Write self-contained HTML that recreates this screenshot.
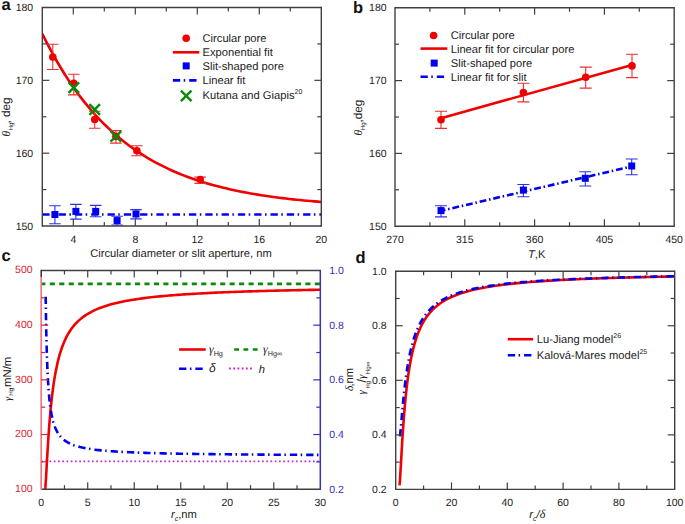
<!DOCTYPE html><html><head><meta charset="utf-8"><style>html,body{margin:0;padding:0;background:#fff;}svg{display:block;}text{font-family:"Liberation Sans",sans-serif;text-rendering:geometricPrecision;}</style></head><body>
<svg width="685" height="524" viewBox="0 0 685 524">
<rect width="685" height="524" fill="#fff"/>
<g>
<clipPath id="ca"><rect x="42.3" y="7.5" width="279.0" height="218.5"/></clipPath>
<path d="M42.30 33.72L45.83 40.84L49.36 47.67L52.89 54.21L56.43 60.50L59.96 66.52L63.49 72.30L67.02 77.85L70.55 83.17L74.08 88.27L77.62 93.16L81.15 97.86L84.68 102.36L88.21 106.69L91.74 110.83L95.27 114.81L98.81 118.62L102.34 122.28L105.87 125.79L109.40 129.16L112.93 132.39L116.46 135.49L120.00 138.46L123.53 141.31L127.06 144.04L130.59 146.67L134.12 149.18L137.65 151.60L141.19 153.91L144.72 156.14L148.25 158.27L151.78 160.31L155.31 162.27L158.84 164.16L162.38 165.96L165.91 167.69L169.44 169.35L172.97 170.95L176.50 172.47L180.03 173.94L183.57 175.35L187.10 176.69L190.63 177.99L194.16 179.23L197.69 180.42L201.22 181.56L204.76 182.66L208.29 183.71L211.82 184.72L215.35 185.69L218.88 186.61L222.41 187.50L225.95 188.36L229.48 189.18L233.01 189.96L236.54 190.72L240.07 191.44L243.60 192.13L247.14 192.80L250.67 193.44L254.20 194.05L257.73 194.64L261.26 195.20L264.79 195.74L268.33 196.26L271.86 196.76L275.39 197.23L278.92 197.69L282.45 198.13L285.98 198.55L289.52 198.96L293.05 199.34L296.58 199.72L300.11 200.07L303.64 200.42L307.17 200.74L310.71 201.06L314.24 201.36L317.77 201.65L321.30 201.93" stroke="#f00000" stroke-width="2.6" fill="none" clip-path="url(#ca)"/>
<path d="M42.30 214.50L321.30 214.50" stroke="#0000f0" stroke-width="2.6" fill="none" stroke-dasharray="7.3 3.5 1.5 4" stroke-dashoffset="0" />
<path d="M52.80 44.30V69.50M47.05 44.30H58.55M47.05 69.50H58.55" stroke="#e83030" stroke-width="1.1" fill="none"/>
<circle cx="52.80" cy="57.10" r="3.8" fill="#f00000"/>
<path d="M73.80 74.30V94.90M68.05 74.30H79.55M68.05 94.90H79.55" stroke="#e83030" stroke-width="1.1" fill="none"/>
<circle cx="73.80" cy="83.40" r="3.8" fill="#f00000"/>
<path d="M94.70 111.30V128.20M88.95 111.30H100.45M88.95 128.20H100.45" stroke="#e83030" stroke-width="1.1" fill="none"/>
<circle cx="94.70" cy="119.50" r="3.8" fill="#f00000"/>
<path d="M115.90 130.60V143.10M110.15 130.60H121.65M110.15 143.10H121.65" stroke="#e83030" stroke-width="1.1" fill="none"/>
<circle cx="115.90" cy="136.40" r="3.8" fill="#f00000"/>
<path d="M136.90 145.70V155.80M131.15 145.70H142.65M131.15 155.80H142.65" stroke="#e83030" stroke-width="1.1" fill="none"/>
<circle cx="136.90" cy="150.70" r="3.8" fill="#f00000"/>
<path d="M200.20 177.10V183.40M194.45 177.10H205.95M194.45 183.40H205.95" stroke="#e83030" stroke-width="1.1" fill="none"/>
<circle cx="200.20" cy="179.60" r="3.8" fill="#f00000"/>
<path d="M54.90 205.80V223.80M49.15 205.80H60.65M49.15 223.80H60.65" stroke="#3030e8" stroke-width="1.1" fill="none"/>
<rect x="51.40" y="211.00" width="7" height="7" fill="#0000f0"/>
<path d="M75.90 204.40V219.10M70.15 204.40H81.65M70.15 219.10H81.65" stroke="#3030e8" stroke-width="1.1" fill="none"/>
<rect x="72.40" y="207.90" width="7" height="7" fill="#0000f0"/>
<path d="M95.70 205.40V216.80M89.95 205.40H101.45M89.95 216.80H101.45" stroke="#3030e8" stroke-width="1.1" fill="none"/>
<rect x="92.20" y="207.90" width="7" height="7" fill="#0000f0"/>
<path d="M117.10 216.30V225.00M111.35 216.30H122.85M111.35 225.00H122.85" stroke="#3030e8" stroke-width="1.1" fill="none"/>
<rect x="113.60" y="217.10" width="7" height="7" fill="#0000f0"/>
<path d="M136.00 209.60V218.90M130.25 209.60H141.75M130.25 218.90H141.75" stroke="#3030e8" stroke-width="1.1" fill="none"/>
<rect x="132.50" y="210.50" width="7" height="7" fill="#0000f0"/>
<path d="M68.50 82.30L79.10 92.90M79.10 82.30L68.50 92.90" stroke="#0a8a0a" stroke-width="2.4" fill="none"/>
<path d="M89.40 104.20L100.00 114.80M100.00 104.20L89.40 114.80" stroke="#0a8a0a" stroke-width="2.4" fill="none"/>
<path d="M110.60 131.10L121.20 141.70M121.20 131.10L110.60 141.70" stroke="#0a8a0a" stroke-width="2.4" fill="none"/>
<line x1="42.30" y1="7.50" x2="321.30" y2="7.50" stroke="#404040" stroke-width="1.4" />
<line x1="42.30" y1="226.00" x2="321.30" y2="226.00" stroke="#404040" stroke-width="1.4" />
<line x1="42.30" y1="6.80" x2="42.30" y2="226.70" stroke="#404040" stroke-width="1.4" />
<line x1="321.30" y1="6.80" x2="321.30" y2="226.70" stroke="#404040" stroke-width="1.4" />
<line x1="73.30" y1="226.00" x2="73.30" y2="219.00" stroke="#404040" stroke-width="1.2" />
<line x1="73.30" y1="7.50" x2="73.30" y2="14.50" stroke="#404040" stroke-width="1.2" />
<line x1="104.30" y1="226.00" x2="104.30" y2="222.00" stroke="#404040" stroke-width="1.2" />
<line x1="104.30" y1="7.50" x2="104.30" y2="11.50" stroke="#404040" stroke-width="1.2" />
<line x1="135.30" y1="226.00" x2="135.30" y2="219.00" stroke="#404040" stroke-width="1.2" />
<line x1="135.30" y1="7.50" x2="135.30" y2="14.50" stroke="#404040" stroke-width="1.2" />
<line x1="166.30" y1="226.00" x2="166.30" y2="222.00" stroke="#404040" stroke-width="1.2" />
<line x1="166.30" y1="7.50" x2="166.30" y2="11.50" stroke="#404040" stroke-width="1.2" />
<line x1="197.30" y1="226.00" x2="197.30" y2="219.00" stroke="#404040" stroke-width="1.2" />
<line x1="197.30" y1="7.50" x2="197.30" y2="14.50" stroke="#404040" stroke-width="1.2" />
<line x1="228.30" y1="226.00" x2="228.30" y2="222.00" stroke="#404040" stroke-width="1.2" />
<line x1="228.30" y1="7.50" x2="228.30" y2="11.50" stroke="#404040" stroke-width="1.2" />
<line x1="259.30" y1="226.00" x2="259.30" y2="219.00" stroke="#404040" stroke-width="1.2" />
<line x1="259.30" y1="7.50" x2="259.30" y2="14.50" stroke="#404040" stroke-width="1.2" />
<line x1="290.30" y1="226.00" x2="290.30" y2="222.00" stroke="#404040" stroke-width="1.2" />
<line x1="290.30" y1="7.50" x2="290.30" y2="11.50" stroke="#404040" stroke-width="1.2" />
<line x1="42.30" y1="189.58" x2="46.30" y2="189.58" stroke="#404040" stroke-width="1.2" />
<line x1="321.30" y1="189.58" x2="317.30" y2="189.58" stroke="#404040" stroke-width="1.2" />
<line x1="42.30" y1="153.17" x2="49.30" y2="153.17" stroke="#404040" stroke-width="1.2" />
<line x1="321.30" y1="153.17" x2="314.30" y2="153.17" stroke="#404040" stroke-width="1.2" />
<line x1="42.30" y1="116.75" x2="46.30" y2="116.75" stroke="#404040" stroke-width="1.2" />
<line x1="321.30" y1="116.75" x2="317.30" y2="116.75" stroke="#404040" stroke-width="1.2" />
<line x1="42.30" y1="80.33" x2="49.30" y2="80.33" stroke="#404040" stroke-width="1.2" />
<line x1="321.30" y1="80.33" x2="314.30" y2="80.33" stroke="#404040" stroke-width="1.2" />
<line x1="42.30" y1="43.92" x2="46.30" y2="43.92" stroke="#404040" stroke-width="1.2" />
<line x1="321.30" y1="43.92" x2="317.30" y2="43.92" stroke="#404040" stroke-width="1.2" />
<text x="33.20" y="229.60" font-size="10.5" text-anchor="end" fill="#222" >150</text>
<text x="33.20" y="156.77" font-size="10.5" text-anchor="end" fill="#222" >160</text>
<text x="33.20" y="83.93" font-size="10.5" text-anchor="end" fill="#222" >170</text>
<text x="33.20" y="11.10" font-size="10.5" text-anchor="end" fill="#222" >180</text>
<text x="73.30" y="243.00" font-size="10.5" text-anchor="middle" fill="#222" >4</text>
<text x="135.30" y="243.00" font-size="10.5" text-anchor="middle" fill="#222" >8</text>
<text x="197.30" y="243.00" font-size="10.5" text-anchor="middle" fill="#222" >12</text>
<text x="259.30" y="243.00" font-size="10.5" text-anchor="middle" fill="#222" >16</text>
<text x="321.30" y="243.00" font-size="10.5" text-anchor="middle" fill="#222" >20</text>
<text x="181.00" y="257.40" font-size="11.2" text-anchor="middle" fill="#222" >Circular diameter or slit aperture, nm</text>
<text transform="rotate(-90)" fill="#222"><tspan x="-136.50" y="9.70" font-size="11.5" font-family="Liberation Serif" font-style="italic">θ</tspan><tspan x="-130.40" y="12.90" font-size="6.2" >Hg</tspan><tspan x="-123.60" y="9.80" font-size="11.8" >, deg</tspan></text>
<circle cx="186.20" cy="38.20" r="3.8" fill="#f00000"/>
<text x="202.50" y="41.80" font-size="11.2" text-anchor="start" fill="#222" >Circular pore</text>
<line x1="172.90" y1="52.30" x2="199.30" y2="52.30" stroke="#f00000" stroke-width="2.6" />
<text x="202.50" y="55.80" font-size="11.2" text-anchor="start" fill="#222" >Exponential fit</text>
<rect x="182.70" y="62.40" width="7" height="7" fill="#0000f0"/>
<text x="202.50" y="69.90" font-size="11.2" text-anchor="start" fill="#222" >Slit-shaped pore</text>
<path d="M172.90 80.40L199.30 80.40" stroke="#0000f0" stroke-width="2.6" fill="none" stroke-dasharray="7.3 3.5 1.5 4" stroke-dashoffset="0" />
<text x="202.50" y="83.90" font-size="11.2" text-anchor="start" fill="#222" >Linear fit</text>
<path d="M180.90 90.60L191.50 101.20M191.50 90.60L180.90 101.20" stroke="#0a8a0a" stroke-width="2.4" fill="none"/>
<text x="202.5" y="99.3" font-size="11.2" fill="#222">Kutana and Giapis<tspan font-size="7" dy="-5">20</tspan></text>
<text x="1.5" y="10.2" font-size="16.5" font-weight="bold" fill="#111">a</text>
</g>
<g>
<path d="M441.00 118.20L632.00 64.90" stroke="#f00000" stroke-width="2.6" fill="none" />
<path d="M441.00 210.80L631.70 166.40" stroke="#0000f0" stroke-width="2.6" fill="none" stroke-dasharray="6.8 2.8 1.5 2.9" stroke-dashoffset="2.3" />
<path d="M441.00 111.20V128.40M435.00 111.20H447.00M435.00 128.40H447.00" stroke="#e83030" stroke-width="1.1" fill="none"/>
<circle cx="441.00" cy="119.80" r="3.8" fill="#f00000"/>
<path d="M523.40 83.20V101.90M517.40 83.20H529.40M517.40 101.90H529.40" stroke="#e83030" stroke-width="1.1" fill="none"/>
<circle cx="523.40" cy="92.50" r="3.8" fill="#f00000"/>
<path d="M585.70 67.10V88.10M579.70 67.10H591.70M579.70 88.10H591.70" stroke="#e83030" stroke-width="1.1" fill="none"/>
<circle cx="585.70" cy="77.30" r="3.8" fill="#f00000"/>
<path d="M632.00 54.20V77.60M626.00 54.20H638.00M626.00 77.60H638.00" stroke="#e83030" stroke-width="1.1" fill="none"/>
<circle cx="632.00" cy="65.90" r="3.8" fill="#f00000"/>
<path d="M441.00 205.70V216.90M435.00 205.70H447.00M435.00 216.90H447.00" stroke="#3030e8" stroke-width="1.1" fill="none"/>
<rect x="437.50" y="207.10" width="7" height="7" fill="#0000f0"/>
<path d="M523.40 184.50V196.70M517.40 184.50H529.40M517.40 196.70H529.40" stroke="#3030e8" stroke-width="1.1" fill="none"/>
<rect x="519.90" y="186.60" width="7" height="7" fill="#0000f0"/>
<path d="M585.30 171.80V186.00M579.30 171.80H591.30M579.30 186.00H591.30" stroke="#3030e8" stroke-width="1.1" fill="none"/>
<rect x="581.80" y="174.80" width="7" height="7" fill="#0000f0"/>
<path d="M631.70 159.00V174.70M625.70 159.00H637.70M625.70 174.70H637.70" stroke="#3030e8" stroke-width="1.1" fill="none"/>
<rect x="628.20" y="162.50" width="7" height="7" fill="#0000f0"/>
<line x1="395.00" y1="7.80" x2="674.20" y2="7.80" stroke="#404040" stroke-width="1.4" />
<line x1="395.00" y1="226.20" x2="674.20" y2="226.20" stroke="#404040" stroke-width="1.4" />
<line x1="395.00" y1="7.10" x2="395.00" y2="226.90" stroke="#404040" stroke-width="1.4" />
<line x1="674.20" y1="7.10" x2="674.20" y2="226.90" stroke="#404040" stroke-width="1.4" />
<line x1="429.90" y1="226.20" x2="429.90" y2="222.20" stroke="#404040" stroke-width="1.2" />
<line x1="429.90" y1="7.80" x2="429.90" y2="11.80" stroke="#404040" stroke-width="1.2" />
<line x1="464.80" y1="226.20" x2="464.80" y2="219.20" stroke="#404040" stroke-width="1.2" />
<line x1="464.80" y1="7.80" x2="464.80" y2="14.80" stroke="#404040" stroke-width="1.2" />
<line x1="499.70" y1="226.20" x2="499.70" y2="222.20" stroke="#404040" stroke-width="1.2" />
<line x1="499.70" y1="7.80" x2="499.70" y2="11.80" stroke="#404040" stroke-width="1.2" />
<line x1="534.60" y1="226.20" x2="534.60" y2="219.20" stroke="#404040" stroke-width="1.2" />
<line x1="534.60" y1="7.80" x2="534.60" y2="14.80" stroke="#404040" stroke-width="1.2" />
<line x1="569.50" y1="226.20" x2="569.50" y2="222.20" stroke="#404040" stroke-width="1.2" />
<line x1="569.50" y1="7.80" x2="569.50" y2="11.80" stroke="#404040" stroke-width="1.2" />
<line x1="604.40" y1="226.20" x2="604.40" y2="219.20" stroke="#404040" stroke-width="1.2" />
<line x1="604.40" y1="7.80" x2="604.40" y2="14.80" stroke="#404040" stroke-width="1.2" />
<line x1="639.30" y1="226.20" x2="639.30" y2="222.20" stroke="#404040" stroke-width="1.2" />
<line x1="639.30" y1="7.80" x2="639.30" y2="11.80" stroke="#404040" stroke-width="1.2" />
<line x1="395.00" y1="189.80" x2="399.00" y2="189.80" stroke="#404040" stroke-width="1.2" />
<line x1="674.20" y1="189.80" x2="670.20" y2="189.80" stroke="#404040" stroke-width="1.2" />
<line x1="395.00" y1="153.40" x2="402.00" y2="153.40" stroke="#404040" stroke-width="1.2" />
<line x1="674.20" y1="153.40" x2="667.20" y2="153.40" stroke="#404040" stroke-width="1.2" />
<line x1="395.00" y1="117.00" x2="399.00" y2="117.00" stroke="#404040" stroke-width="1.2" />
<line x1="674.20" y1="117.00" x2="670.20" y2="117.00" stroke="#404040" stroke-width="1.2" />
<line x1="395.00" y1="80.60" x2="402.00" y2="80.60" stroke="#404040" stroke-width="1.2" />
<line x1="674.20" y1="80.60" x2="667.20" y2="80.60" stroke="#404040" stroke-width="1.2" />
<line x1="395.00" y1="44.20" x2="399.00" y2="44.20" stroke="#404040" stroke-width="1.2" />
<line x1="674.20" y1="44.20" x2="670.20" y2="44.20" stroke="#404040" stroke-width="1.2" />
<text x="386.60" y="229.80" font-size="10.5" text-anchor="end" fill="#222" >150</text>
<text x="386.60" y="157.00" font-size="10.5" text-anchor="end" fill="#222" >160</text>
<text x="386.60" y="84.20" font-size="10.5" text-anchor="end" fill="#222" >170</text>
<text x="386.60" y="11.40" font-size="10.5" text-anchor="end" fill="#222" >180</text>
<text x="395.00" y="243.00" font-size="10.5" text-anchor="middle" fill="#222" >270</text>
<text x="464.80" y="243.00" font-size="10.5" text-anchor="middle" fill="#222" >315</text>
<text x="534.60" y="243.00" font-size="10.5" text-anchor="middle" fill="#222" >360</text>
<text x="604.40" y="243.00" font-size="10.5" text-anchor="middle" fill="#222" >405</text>
<text x="674.20" y="243.00" font-size="10.5" text-anchor="middle" fill="#222" >450</text>
<text x="528" y="257.8" font-size="11.2" fill="#222"><tspan font-style="italic">T</tspan>,K</text>
<text transform="rotate(-90)" fill="#222"><tspan x="-135.60" y="361.90" font-size="11.5" font-family="Liberation Serif" font-style="italic">θ</tspan><tspan x="-130.20" y="365.10" font-size="6.2" >Hg</tspan><tspan x="-122.60" y="362.00" font-size="11.7" >,deg</tspan></text>
<circle cx="433.60" cy="35.50" r="3.8" fill="#f00000"/>
<text x="450.70" y="38.90" font-size="11.2" text-anchor="start" fill="#222" >Circular pore</text>
<line x1="420.50" y1="48.60" x2="447.30" y2="48.60" stroke="#f00000" stroke-width="2.6" />
<text x="450.70" y="52.60" font-size="11.2" text-anchor="start" fill="#222" >Linear fit for circular pore</text>
<rect x="430.70" y="59.60" width="7" height="7" fill="#0000f0"/>
<text x="450.70" y="66.90" font-size="11.2" text-anchor="start" fill="#222" >Slit-shaped pore</text>
<path d="M420.50 76.80L447.30 76.80" stroke="#0000f0" stroke-width="2.6" fill="none" stroke-dasharray="7.3 3.5 1.5 4" stroke-dashoffset="0" />
<text x="450.70" y="80.50" font-size="11.2" text-anchor="start" fill="#222" >Linear fit for slit</text>
<text x="353.0" y="12.5" font-size="16.5" font-weight="bold" fill="#111">b</text>
</g>
<g>
<clipPath id="cc"><rect x="41.2" y="270.5" width="279.1" height="218.7"/></clipPath>
<path d="M41.20 461.30L320.30 461.30" stroke="#c828d0" stroke-width="1.8" fill="none" stroke-dasharray="1.7 2.55" stroke-dashoffset="0.2" />
<path d="M41.20 283.90L320.30 283.90" stroke="#0a8a0a" stroke-width="2.6" fill="none" stroke-dasharray="5.1 4.364" stroke-dashoffset="0.86" />
<path d="M44.92 490.10L45.05 489.80L45.18 489.03L45.31 487.88L45.44 486.44L45.57 484.77L45.70 482.91L45.83 480.92L45.96 478.82L46.09 476.63L46.22 474.40L46.35 472.12L46.48 469.82L46.61 467.51L46.73 465.19L46.86 462.89L46.99 460.60L47.12 458.33L47.25 456.08L47.38 453.86L47.51 451.67L47.64 449.51L47.77 447.38L47.90 445.29L48.03 443.24L48.16 441.22L48.29 439.24L48.42 437.30L48.55 435.39L48.68 433.52L48.81 431.69L48.94 429.90L49.07 428.14L49.20 426.41L49.33 424.72L49.46 423.06L49.58 421.44L49.71 419.85L49.84 418.29L49.97 416.77L50.10 415.27L50.23 413.80L50.36 412.37L50.49 410.96L50.62 409.58L50.75 408.22L50.88 406.90L51.01 405.60L51.14 404.32L51.27 403.07L51.40 401.84L51.53 400.64L51.66 399.46L51.79 398.30L51.92 397.17L52.05 396.05L52.18 394.96L52.31 393.88L52.43 392.83L52.56 391.79L52.69 390.78L52.82 389.78L52.95 388.80L53.08 387.83L53.21 386.89L53.34 385.96L53.47 385.04L53.60 384.14L53.73 383.26L53.86 382.39L53.99 381.54L54.12 380.70L54.25 379.88L54.38 379.07L54.51 378.27L54.64 377.48L54.77 376.71L54.90 375.95L55.03 375.20L55.16 374.47L55.34 373.43L57.57 362.62L59.79 354.12L62.02 347.28L64.25 341.65L66.47 336.95L68.70 332.96L70.93 329.53L73.15 326.56L75.38 323.96L77.61 321.66L79.83 319.61L82.06 317.78L84.29 316.13L86.51 314.64L88.74 313.28L90.97 312.04L93.19 310.90L95.42 309.86L97.65 308.89L99.87 308.00L102.10 307.17L104.33 306.39L106.55 305.67L108.78 304.99L111.00 304.36L113.23 303.77L115.46 303.21L117.68 302.68L119.91 302.18L122.14 301.71L124.36 301.26L126.59 300.84L128.82 300.43L131.04 300.05L133.27 299.68L135.50 299.34L137.72 299.00L139.95 298.69L142.18 298.38L144.40 298.09L146.63 297.81L148.86 297.55L151.08 297.29L153.31 297.04L155.54 296.81L157.76 296.58L159.99 296.36L162.22 296.15L164.44 295.94L166.67 295.75L168.89 295.56L171.12 295.37L173.35 295.19L175.57 295.02L177.80 294.86L180.03 294.70L182.25 294.54L184.48 294.39L186.71 294.24L188.93 294.10L191.16 293.96L193.39 293.83L195.61 293.70L197.84 293.57L200.07 293.45L202.29 293.33L204.52 293.21L206.75 293.10L208.97 292.99L211.20 292.88L213.43 292.78L215.65 292.67L217.88 292.57L220.11 292.48L222.33 292.38L224.56 292.29L226.79 292.20L229.01 292.11L231.24 292.03L233.46 291.94L235.69 291.86L237.92 291.78L240.14 291.70L242.37 291.62L244.60 291.55L246.82 291.48L249.05 291.40L251.28 291.33L253.50 291.26L255.73 291.20L257.96 291.13L260.18 291.07L262.41 291.00L264.64 290.94L266.86 290.88L269.09 290.82L271.32 290.76L273.54 290.70L275.77 290.65L278.00 290.59L280.22 290.54L282.45 290.48L284.68 290.43L286.90 290.38L289.13 290.33L291.35 290.28L293.58 290.23L295.81 290.18L298.03 290.14L300.26 290.09L302.49 290.04L304.71 290.00L306.94 289.95L309.17 289.91L311.39 289.87L313.62 289.83L315.85 289.79L318.07 289.75L320.30 289.71" stroke="#f00000" stroke-width="2.6" fill="none" clip-path="url(#cc)"/>
<path d="M45.67 294.58L45.78 303.37L45.90 311.26L46.02 318.37L46.14 324.81L46.25 330.68L46.37 336.05L46.49 340.98L46.61 345.51L46.73 349.71L46.84 353.60L46.96 357.21L47.08 360.58L47.20 363.72L47.31 366.67L47.43 369.43L47.55 372.03L47.67 374.48L47.79 376.78L47.90 378.96L48.02 381.03L48.14 382.99L48.26 384.84L48.38 386.61L48.49 388.29L48.61 389.89L48.73 391.42L48.85 392.88L48.96 394.27L49.08 395.60L49.20 396.88L49.32 398.11L49.44 399.28L49.55 400.41L49.67 401.49L49.79 402.54L49.91 403.54L50.02 404.51L50.14 405.44L50.26 406.34L50.38 407.21L50.50 408.04L50.61 408.85L50.73 409.64L50.85 410.39L50.97 411.13L51.08 411.84L51.20 412.53L51.32 413.19L51.44 413.84L51.56 414.47L51.67 415.08L51.79 415.67L51.91 416.24L52.03 416.80L52.15 417.34L52.26 417.87L52.38 418.39L52.50 418.89L52.62 419.38L52.73 419.85L52.85 420.31L52.97 420.76L53.09 421.20L53.21 421.63L53.32 422.05L53.44 422.46L53.56 422.86L53.68 423.25L53.79 423.63L53.91 424.00L54.03 424.36L54.15 424.72L54.27 425.07L54.38 425.41L54.50 425.74L54.62 426.07L54.74 426.38L54.85 426.70L54.97 427.00L55.09 427.30L55.21 427.59L55.33 427.88L55.44 428.16L55.56 428.44L55.68 428.71L55.80 428.97L55.92 429.23L56.03 429.49L56.15 429.74L56.27 429.98L56.39 430.23L56.50 430.46L56.62 430.69L56.74 430.92L56.86 431.15L56.98 431.37L57.09 431.58L57.21 431.80L57.33 432.01L57.45 432.21L57.56 432.41L57.68 432.61L57.80 432.81L57.92 433.00L58.04 433.19L58.15 433.37L58.27 433.56L58.39 433.74L58.51 433.91L58.62 434.09L58.74 434.26L58.86 434.43L58.98 434.60L59.10 434.76L59.21 434.92L59.33 435.08L59.45 435.24L59.57 435.39L59.69 435.54L59.80 435.69L59.92 435.84L60.04 435.99L60.16 436.13L60.27 436.27L60.39 436.41L60.51 436.55L60.63 436.68L60.75 436.82L60.86 436.95L60.98 437.08L61.10 437.21L61.22 437.33L61.33 437.46L61.45 437.58L61.57 437.70L61.69 437.82L61.81 437.94L61.92 438.06L62.04 438.17L62.16 438.29L62.28 438.40L62.39 438.51L62.51 438.62L62.63 438.73L62.75 438.84L62.87 438.94L62.98 439.05L63.10 439.15L63.22 439.25L63.34 439.35L63.46 439.45L63.57 439.55L63.69 439.65L63.81 439.75L63.93 439.84L64.04 439.93L64.16 440.03L64.28 440.12L64.40 440.21L64.52 440.30L64.63 440.39L64.75 440.48L64.87 440.56L64.99 440.65L65.10 440.73L65.22 440.82L65.34 440.90L65.46 440.98L65.58 441.06L65.69 441.14L65.81 441.22L65.93 441.30L66.05 441.38L66.16 441.46L66.28 441.53L66.40 441.61L66.52 441.68L66.64 441.76L66.75 441.83L66.87 441.90L66.99 441.97L67.11 442.05L67.23 442.12L67.34 442.19L67.46 442.25L67.58 442.32L67.70 442.39L67.81 442.46L67.93 442.52L68.05 442.59L68.17 442.65L68.29 442.72L68.40 442.78L68.52 442.84L68.64 442.91L68.76 442.97L68.87 443.03L68.99 443.09L69.11 443.15L69.58 443.38L71.68 444.34L73.79 445.16L75.90 445.88L78.00 446.51L80.11 447.06L82.22 447.56L84.32 448.00L86.43 448.40L88.54 448.76L90.64 449.09L92.75 449.39L94.86 449.67L96.97 449.92L99.07 450.16L101.18 450.38L103.29 450.58L105.39 450.77L107.50 450.95L109.61 451.11L111.71 451.27L113.82 451.41L115.93 451.55L118.03 451.68L120.14 451.80L122.25 451.92L124.36 452.03L126.46 452.13L128.57 452.23L130.68 452.32L132.78 452.41L134.89 452.50L137.00 452.58L139.10 452.66L141.21 452.73L143.32 452.81L145.42 452.87L147.53 452.94L149.64 453.00L151.75 453.06L153.85 453.12L155.96 453.18L158.07 453.23L160.17 453.28L162.28 453.34L164.39 453.38L166.49 453.43L168.60 453.48L170.71 453.52L172.81 453.56L174.92 453.60L177.03 453.64L179.14 453.68L181.24 453.72L183.35 453.76L185.46 453.79L187.56 453.82L189.67 453.86L191.78 453.89L193.88 453.92L195.99 453.95L198.10 453.98L200.20 454.01L202.31 454.04L204.42 454.07L206.53 454.09L208.63 454.12L210.74 454.14L212.85 454.17L214.95 454.19L217.06 454.22L219.17 454.24L221.27 454.26L223.38 454.28L225.49 454.30L227.60 454.32L229.70 454.34L231.81 454.36L233.92 454.38L236.02 454.40L238.13 454.42L240.24 454.44L242.34 454.46L244.45 454.48L246.56 454.49L248.66 454.51L250.77 454.53L252.88 454.54L254.99 454.56L257.09 454.57L259.20 454.59L261.31 454.60L263.41 454.62L265.52 454.63L267.63 454.65L269.73 454.66L271.84 454.67L273.95 454.69L276.05 454.70L278.16 454.71L280.27 454.72L282.38 454.74L284.48 454.75L286.59 454.76L288.70 454.77L290.80 454.78L292.91 454.80L295.02 454.81L297.12 454.82L299.23 454.83L301.34 454.84L303.44 454.85L305.55 454.86L307.66 454.87L309.77 454.88L311.87 454.89L313.98 454.90L316.09 454.91L318.19 454.92L320.30 454.93" stroke="#0000f0" stroke-width="2.6" fill="none" stroke-dasharray="7.3 3.5 1.5 4" stroke-dashoffset="-2.1" clip-path="url(#cc)"/>
<line x1="41.20" y1="270.50" x2="320.30" y2="270.50" stroke="#404040" stroke-width="1.4" />
<line x1="41.20" y1="489.20" x2="320.30" y2="489.20" stroke="#404040" stroke-width="1.4" />
<line x1="41.20" y1="277.00" x2="41.20" y2="489.90" stroke="#ee7680" stroke-width="1.7" />
<line x1="41.20" y1="269.80" x2="41.20" y2="277.00" stroke="#303030" stroke-width="1.5" />
<line x1="320.30" y1="269.80" x2="320.30" y2="489.90" stroke="#3830b8" stroke-width="1.5" />
<line x1="64.46" y1="489.20" x2="64.46" y2="485.20" stroke="#404040" stroke-width="1.2" />
<line x1="64.46" y1="270.50" x2="64.46" y2="274.50" stroke="#404040" stroke-width="1.2" />
<line x1="87.72" y1="489.20" x2="87.72" y2="482.20" stroke="#404040" stroke-width="1.2" />
<line x1="87.72" y1="270.50" x2="87.72" y2="277.50" stroke="#404040" stroke-width="1.2" />
<line x1="110.98" y1="489.20" x2="110.98" y2="485.20" stroke="#404040" stroke-width="1.2" />
<line x1="110.98" y1="270.50" x2="110.98" y2="274.50" stroke="#404040" stroke-width="1.2" />
<line x1="134.23" y1="489.20" x2="134.23" y2="482.20" stroke="#404040" stroke-width="1.2" />
<line x1="134.23" y1="270.50" x2="134.23" y2="277.50" stroke="#404040" stroke-width="1.2" />
<line x1="157.49" y1="489.20" x2="157.49" y2="485.20" stroke="#404040" stroke-width="1.2" />
<line x1="157.49" y1="270.50" x2="157.49" y2="274.50" stroke="#404040" stroke-width="1.2" />
<line x1="180.75" y1="489.20" x2="180.75" y2="482.20" stroke="#404040" stroke-width="1.2" />
<line x1="180.75" y1="270.50" x2="180.75" y2="277.50" stroke="#404040" stroke-width="1.2" />
<line x1="204.01" y1="489.20" x2="204.01" y2="485.20" stroke="#404040" stroke-width="1.2" />
<line x1="204.01" y1="270.50" x2="204.01" y2="274.50" stroke="#404040" stroke-width="1.2" />
<line x1="227.27" y1="489.20" x2="227.27" y2="482.20" stroke="#404040" stroke-width="1.2" />
<line x1="227.27" y1="270.50" x2="227.27" y2="277.50" stroke="#404040" stroke-width="1.2" />
<line x1="250.53" y1="489.20" x2="250.53" y2="485.20" stroke="#404040" stroke-width="1.2" />
<line x1="250.53" y1="270.50" x2="250.53" y2="274.50" stroke="#404040" stroke-width="1.2" />
<line x1="273.78" y1="489.20" x2="273.78" y2="482.20" stroke="#404040" stroke-width="1.2" />
<line x1="273.78" y1="270.50" x2="273.78" y2="277.50" stroke="#404040" stroke-width="1.2" />
<line x1="297.04" y1="489.20" x2="297.04" y2="485.20" stroke="#404040" stroke-width="1.2" />
<line x1="297.04" y1="270.50" x2="297.04" y2="274.50" stroke="#404040" stroke-width="1.2" />
<line x1="41.20" y1="461.86" x2="45.20" y2="461.86" stroke="#d82432" stroke-width="1.2" />
<line x1="41.20" y1="434.52" x2="48.20" y2="434.52" stroke="#d82432" stroke-width="1.2" />
<line x1="41.20" y1="407.19" x2="45.20" y2="407.19" stroke="#d82432" stroke-width="1.2" />
<line x1="41.20" y1="379.85" x2="48.20" y2="379.85" stroke="#d82432" stroke-width="1.2" />
<line x1="41.20" y1="352.51" x2="45.20" y2="352.51" stroke="#d82432" stroke-width="1.2" />
<line x1="41.20" y1="325.17" x2="48.20" y2="325.17" stroke="#d82432" stroke-width="1.2" />
<line x1="41.20" y1="297.84" x2="45.20" y2="297.84" stroke="#d82432" stroke-width="1.2" />
<line x1="320.30" y1="461.86" x2="316.30" y2="461.86" stroke="#3830b8" stroke-width="1.2" />
<line x1="320.30" y1="434.52" x2="313.30" y2="434.52" stroke="#3830b8" stroke-width="1.2" />
<line x1="320.30" y1="407.19" x2="316.30" y2="407.19" stroke="#3830b8" stroke-width="1.2" />
<line x1="320.30" y1="379.85" x2="313.30" y2="379.85" stroke="#3830b8" stroke-width="1.2" />
<line x1="320.30" y1="352.51" x2="316.30" y2="352.51" stroke="#3830b8" stroke-width="1.2" />
<line x1="320.30" y1="325.18" x2="313.30" y2="325.18" stroke="#3830b8" stroke-width="1.2" />
<line x1="320.30" y1="297.84" x2="316.30" y2="297.84" stroke="#3830b8" stroke-width="1.2" />
<text x="32.60" y="492.10" font-size="10.5" text-anchor="end" fill="#d82432" >100</text>
<text x="32.60" y="437.42" font-size="10.5" text-anchor="end" fill="#d82432" >200</text>
<text x="32.60" y="382.75" font-size="10.5" text-anchor="end" fill="#d82432" >300</text>
<text x="32.60" y="328.07" font-size="10.5" text-anchor="end" fill="#d82432" >400</text>
<text x="32.60" y="273.40" font-size="10.5" text-anchor="end" fill="#d82432" >500</text>
<text x="329.20" y="492.80" font-size="10.5" text-anchor="start" fill="#3830b8" >0.2</text>
<text x="329.20" y="438.12" font-size="10.5" text-anchor="start" fill="#3830b8" >0.4</text>
<text x="329.20" y="383.45" font-size="10.5" text-anchor="start" fill="#3830b8" >0.6</text>
<text x="329.20" y="328.78" font-size="10.5" text-anchor="start" fill="#3830b8" >0.8</text>
<text x="329.20" y="274.10" font-size="10.5" text-anchor="start" fill="#3830b8" >1.0</text>
<text x="41.20" y="506.00" font-size="10.5" text-anchor="middle" fill="#222" >0</text>
<text x="87.72" y="506.00" font-size="10.5" text-anchor="middle" fill="#222" >5</text>
<text x="134.23" y="506.00" font-size="10.5" text-anchor="middle" fill="#222" >10</text>
<text x="180.75" y="506.00" font-size="10.5" text-anchor="middle" fill="#222" >15</text>
<text x="227.27" y="506.00" font-size="10.5" text-anchor="middle" fill="#222" >20</text>
<text x="273.78" y="506.00" font-size="10.5" text-anchor="middle" fill="#222" >25</text>
<text x="320.30" y="506.00" font-size="10.5" text-anchor="middle" fill="#222" >30</text>
<text x="171" y="518.3" font-size="11.2" fill="#222"><tspan font-style="italic">r</tspan><tspan font-size="7" dy="3" font-style="italic">c</tspan><tspan dy="-3">,nm</tspan></text>
<text transform="rotate(-90)" fill="#222"><tspan x="-400.90" y="10.80" font-size="10.5" font-family="Liberation Serif" font-style="italic">γ</tspan><tspan x="-395.80" y="13.20" font-size="6.2" >Hg</tspan><tspan x="-390.20" y="10.80" font-size="11.4" >,mN/m</tspan></text>
<text transform="rotate(-90)" fill="#222"><tspan x="-391.00" y="353.30" font-size="11.5" font-family="Liberation Serif" font-style="italic">δ</tspan><tspan x="-386.60" y="353.30" font-size="11.2" >,nm</tspan></text>
<line x1="179.10" y1="349.50" x2="205.70" y2="349.50" stroke="#f00000" stroke-width="2.6" />
<text x="208.9" y="352.5" font-size="11.2" fill="#222"><tspan font-family="Liberation Serif" font-style="italic" font-size="12">γ</tspan><tspan font-size="7.2" dy="3">Hg</tspan></text>
<path d="M234.20 349.50L257.60 349.50" stroke="#0a8a0a" stroke-width="2.6" fill="none" stroke-dasharray="4.8 4.5" stroke-dashoffset="0" />
<text x="263" y="352.5" font-size="11.2" fill="#222"><tspan font-family="Liberation Serif" font-style="italic" font-size="12">γ</tspan><tspan font-size="7.2" dy="3">Hg∞</tspan></text>
<path d="M179.10 368.80L203.20 368.80" stroke="#0000f0" stroke-width="2.6" fill="none" stroke-dasharray="7.3 3.5 1.5 4" stroke-dashoffset="0" />
<text x="208.9" y="372.3" font-size="12" fill="#222" font-family="Liberation Serif" font-style="italic">δ</text>
<path d="M229.10 368.50L252.20 368.50" stroke="#c828d0" stroke-width="1.9" fill="none" stroke-dasharray="1.8 2.4" stroke-dashoffset="0" />
<text x="258.8" y="372.5" font-size="11.2" fill="#222" font-style="italic">h</text>
<text x="1.6" y="260.6" font-size="16.5" font-weight="bold" fill="#111">c</text>
</g>
<g>
<path d="M399.49 485.46L399.70 483.41L399.90 480.84L400.10 477.88L400.30 474.67L400.51 471.29L400.71 467.79L400.91 464.24L401.11 460.66L401.32 457.10L401.52 453.56L401.72 450.07L401.93 446.64L402.13 443.28L402.33 439.99L402.53 436.78L402.74 433.65L402.94 430.60L403.14 427.63L403.34 424.75L403.55 421.95L403.75 419.23L403.95 416.59L404.15 414.02L404.36 411.53L404.56 409.11L404.76 406.77L404.96 404.49L405.17 402.28L405.37 400.13L405.57 398.04L405.77 396.01L405.98 394.05L406.18 392.13L406.38 390.27L406.58 388.47L406.79 386.71L406.99 385.00L407.19 383.33L407.39 381.71L407.60 380.14L407.80 378.60L408.00 377.11L408.20 375.65L408.41 374.24L408.61 372.85L408.81 371.51L409.02 370.19L409.22 368.91L409.42 367.66L409.62 366.44L409.83 365.25L410.03 364.09L410.23 362.95L410.43 361.84L410.64 360.76L410.84 359.70L411.04 358.66L411.24 357.65L411.45 356.66L411.65 355.69L411.85 354.75L412.05 353.82L412.26 352.91L412.46 352.02L412.66 351.16L412.86 350.30L413.07 349.47L413.27 348.65L413.47 347.85L413.67 347.07L413.88 346.30L414.08 345.55L414.28 344.81L414.48 344.08L414.69 343.37L414.89 342.67L415.09 341.99L415.29 341.32L415.50 340.66L415.70 340.01L415.90 339.37L416.10 338.75L416.31 338.13L416.51 337.53L416.71 336.94L416.92 336.36L417.12 335.79L417.32 335.22L417.52 334.67L417.73 334.13L417.93 333.60L418.13 333.07L418.33 332.55L418.54 332.05L418.74 331.55L418.94 331.05L419.14 330.57L419.35 330.09L419.55 329.63L419.75 329.16L419.95 328.71L420.16 328.26L420.36 327.82L420.56 327.39L420.76 326.96L420.97 326.54L421.17 326.12L421.37 325.72L421.57 325.31L421.78 324.92L421.98 324.52L422.18 324.14L422.38 323.76L422.59 323.38L422.79 323.01L422.99 322.65L423.19 322.29L423.40 321.94L423.60 321.59L424.16 320.65L426.69 316.79L429.22 313.49L431.75 310.63L434.28 308.13L436.81 305.93L439.34 303.97L441.87 302.23L444.40 300.66L446.93 299.24L449.47 297.95L452.00 296.77L454.53 295.69L457.06 294.70L459.59 293.79L462.12 292.94L464.65 292.16L467.18 291.43L469.71 290.74L472.24 290.11L474.77 289.51L477.30 288.95L479.83 288.42L482.36 287.93L484.90 287.46L487.43 287.02L489.96 286.60L492.49 286.20L495.02 285.82L497.55 285.46L500.08 285.12L502.61 284.79L505.14 284.48L507.67 284.18L510.20 283.90L512.73 283.63L515.26 283.37L517.79 283.12L520.33 282.88L522.86 282.65L525.39 282.42L527.92 282.21L530.45 282.01L532.98 281.81L535.51 281.62L538.04 281.43L540.57 281.26L543.10 281.08L545.63 280.92L548.16 280.76L550.69 280.60L553.23 280.45L555.76 280.31L558.29 280.17L560.82 280.03L563.35 279.90L565.88 279.77L568.41 279.64L570.94 279.52L573.47 279.41L576.00 279.29L578.53 279.18L581.06 279.07L583.59 278.97L586.12 278.86L588.66 278.76L591.19 278.67L593.72 278.57L596.25 278.48L598.78 278.39L601.31 278.30L603.84 278.21L606.37 278.13L608.90 278.05L611.43 277.97L613.96 277.89L616.49 277.81L619.02 277.74L621.55 277.67L624.09 277.60L626.62 277.53L629.15 277.46L631.68 277.39L634.21 277.32L636.74 277.26L639.27 277.20L641.80 277.14L644.33 277.08L646.86 277.02L649.39 276.96L651.92 276.90L654.45 276.85L656.98 276.79L659.52 276.74L662.05 276.69L664.58 276.64L667.11 276.58L669.64 276.54L672.17 276.49L674.70 276.44" stroke="#f00000" stroke-width="2.6" fill="none" />
<path d="M399.88 436.34L400.08 434.95L400.28 433.28L400.48 431.39L400.68 429.34L400.88 427.18L401.08 424.95L401.28 422.68L401.48 420.37L401.68 418.07L401.88 415.77L402.08 413.48L402.28 411.22L402.48 409.00L402.68 406.80L402.87 404.65L403.07 402.54L403.27 400.47L403.47 398.45L403.67 396.47L403.87 394.54L404.07 392.66L404.27 390.82L404.47 389.02L404.67 387.27L404.87 385.56L405.07 383.89L405.27 382.26L405.46 380.68L405.66 379.13L405.86 377.62L406.06 376.15L406.26 374.71L406.46 373.31L406.66 371.95L406.86 370.61L407.06 369.31L407.26 368.04L407.46 366.80L407.66 365.59L407.86 364.41L408.06 363.25L408.25 362.12L408.45 361.02L408.65 359.94L408.85 358.89L409.05 357.86L409.25 356.85L409.45 355.87L409.65 354.90L409.85 353.96L410.05 353.04L410.25 352.13L410.45 351.25L410.65 350.38L410.85 349.53L411.05 348.70L411.24 347.89L411.44 347.09L411.64 346.31L411.84 345.54L412.04 344.79L412.24 344.06L412.44 343.33L412.64 342.62L412.84 341.93L413.04 341.25L413.24 340.58L413.44 339.92L413.64 339.28L413.83 338.64L414.03 338.02L414.23 337.41L414.43 336.81L414.63 336.22L414.83 335.64L415.03 335.07L415.23 334.51L415.43 333.96L415.63 333.42L415.83 332.89L416.03 332.37L416.23 331.86L416.43 331.35L416.62 330.85L416.82 330.37L417.02 329.88L417.22 329.41L417.42 328.94L417.62 328.49L417.82 328.03L418.02 327.59L418.22 327.15L418.42 326.72L418.62 326.30L418.82 325.88L419.02 325.46L419.22 325.06L419.41 324.66L419.61 324.26L419.81 323.88L420.01 323.49L420.21 323.12L420.41 322.74L420.61 322.38L420.81 322.01L421.01 321.66L421.21 321.31L421.41 320.96L421.61 320.62L421.81 320.28L422.01 319.95L422.20 319.62L422.40 319.29L422.60 318.97L422.80 318.66L423.00 318.35L423.20 318.04L423.40 317.73L423.60 317.43L424.16 316.62L426.69 313.23L429.22 310.32L431.75 307.78L434.28 305.55L436.81 303.58L439.34 301.81L441.87 300.24L444.40 298.81L446.93 297.52L449.47 296.34L452.00 295.27L454.53 294.28L457.06 293.37L459.59 292.53L462.12 291.75L464.65 291.02L467.18 290.35L469.71 289.72L472.24 289.13L474.77 288.57L477.30 288.05L479.83 287.56L482.36 287.10L484.90 286.66L487.43 286.24L489.96 285.85L492.49 285.48L495.02 285.13L497.55 284.79L500.08 284.47L502.61 284.16L505.14 283.87L507.67 283.59L510.20 283.32L512.73 283.07L515.26 282.82L517.79 282.58L520.33 282.36L522.86 282.14L525.39 281.93L527.92 281.73L530.45 281.54L532.98 281.35L535.51 281.17L538.04 281.00L540.57 280.83L543.10 280.67L545.63 280.51L548.16 280.36L550.69 280.21L553.23 280.07L555.76 279.93L558.29 279.80L560.82 279.67L563.35 279.54L565.88 279.42L568.41 279.30L570.94 279.19L573.47 279.07L576.00 278.96L578.53 278.86L581.06 278.76L583.59 278.65L586.12 278.56L588.66 278.46L591.19 278.37L593.72 278.28L596.25 278.19L598.78 278.10L601.31 278.02L603.84 277.94L606.37 277.86L608.90 277.78L611.43 277.70L613.96 277.63L616.49 277.56L619.02 277.49L621.55 277.42L624.09 277.35L626.62 277.28L629.15 277.22L631.68 277.15L634.21 277.09L636.74 277.03L639.27 276.97L641.80 276.91L644.33 276.85L646.86 276.80L649.39 276.74L651.92 276.69L654.45 276.63L656.98 276.58L659.52 276.53L662.05 276.48L664.58 276.43L667.11 276.38L669.64 276.34L672.17 276.29L674.70 276.24" stroke="#0000f0" stroke-width="2.6" fill="none" stroke-dasharray="7.3 3.5 1.5 4" stroke-dashoffset="0" />
<line x1="395.70" y1="271.20" x2="674.70" y2="271.20" stroke="#404040" stroke-width="1.4" />
<line x1="395.70" y1="489.40" x2="674.70" y2="489.40" stroke="#404040" stroke-width="1.4" />
<line x1="395.70" y1="270.50" x2="395.70" y2="490.10" stroke="#404040" stroke-width="1.4" />
<line x1="674.70" y1="270.50" x2="674.70" y2="490.10" stroke="#404040" stroke-width="1.4" />
<line x1="423.60" y1="489.40" x2="423.60" y2="485.40" stroke="#404040" stroke-width="1.2" />
<line x1="423.60" y1="271.20" x2="423.60" y2="275.20" stroke="#404040" stroke-width="1.2" />
<line x1="451.50" y1="489.40" x2="451.50" y2="482.40" stroke="#404040" stroke-width="1.2" />
<line x1="451.50" y1="271.20" x2="451.50" y2="278.20" stroke="#404040" stroke-width="1.2" />
<line x1="479.40" y1="489.40" x2="479.40" y2="485.40" stroke="#404040" stroke-width="1.2" />
<line x1="479.40" y1="271.20" x2="479.40" y2="275.20" stroke="#404040" stroke-width="1.2" />
<line x1="507.30" y1="489.40" x2="507.30" y2="482.40" stroke="#404040" stroke-width="1.2" />
<line x1="507.30" y1="271.20" x2="507.30" y2="278.20" stroke="#404040" stroke-width="1.2" />
<line x1="535.20" y1="489.40" x2="535.20" y2="485.40" stroke="#404040" stroke-width="1.2" />
<line x1="535.20" y1="271.20" x2="535.20" y2="275.20" stroke="#404040" stroke-width="1.2" />
<line x1="563.10" y1="489.40" x2="563.10" y2="482.40" stroke="#404040" stroke-width="1.2" />
<line x1="563.10" y1="271.20" x2="563.10" y2="278.20" stroke="#404040" stroke-width="1.2" />
<line x1="591.00" y1="489.40" x2="591.00" y2="485.40" stroke="#404040" stroke-width="1.2" />
<line x1="591.00" y1="271.20" x2="591.00" y2="275.20" stroke="#404040" stroke-width="1.2" />
<line x1="618.90" y1="489.40" x2="618.90" y2="482.40" stroke="#404040" stroke-width="1.2" />
<line x1="618.90" y1="271.20" x2="618.90" y2="278.20" stroke="#404040" stroke-width="1.2" />
<line x1="646.80" y1="489.40" x2="646.80" y2="485.40" stroke="#404040" stroke-width="1.2" />
<line x1="646.80" y1="271.20" x2="646.80" y2="275.20" stroke="#404040" stroke-width="1.2" />
<line x1="395.70" y1="462.12" x2="399.70" y2="462.12" stroke="#404040" stroke-width="1.2" />
<line x1="674.70" y1="462.12" x2="670.70" y2="462.12" stroke="#404040" stroke-width="1.2" />
<line x1="395.70" y1="434.85" x2="402.70" y2="434.85" stroke="#404040" stroke-width="1.2" />
<line x1="674.70" y1="434.85" x2="667.70" y2="434.85" stroke="#404040" stroke-width="1.2" />
<line x1="395.70" y1="407.57" x2="399.70" y2="407.57" stroke="#404040" stroke-width="1.2" />
<line x1="674.70" y1="407.57" x2="670.70" y2="407.57" stroke="#404040" stroke-width="1.2" />
<line x1="395.70" y1="380.30" x2="402.70" y2="380.30" stroke="#404040" stroke-width="1.2" />
<line x1="674.70" y1="380.30" x2="667.70" y2="380.30" stroke="#404040" stroke-width="1.2" />
<line x1="395.70" y1="353.02" x2="399.70" y2="353.02" stroke="#404040" stroke-width="1.2" />
<line x1="674.70" y1="353.02" x2="670.70" y2="353.02" stroke="#404040" stroke-width="1.2" />
<line x1="395.70" y1="325.75" x2="402.70" y2="325.75" stroke="#404040" stroke-width="1.2" />
<line x1="674.70" y1="325.75" x2="667.70" y2="325.75" stroke="#404040" stroke-width="1.2" />
<line x1="395.70" y1="298.48" x2="399.70" y2="298.48" stroke="#404040" stroke-width="1.2" />
<line x1="674.70" y1="298.48" x2="670.70" y2="298.48" stroke="#404040" stroke-width="1.2" />
<text x="386.70" y="493.00" font-size="10.5" text-anchor="end" fill="#222" >0.2</text>
<text x="386.70" y="438.45" font-size="10.5" text-anchor="end" fill="#222" >0.4</text>
<text x="386.70" y="383.90" font-size="10.5" text-anchor="end" fill="#222" >0.6</text>
<text x="386.70" y="329.35" font-size="10.5" text-anchor="end" fill="#222" >0.8</text>
<text x="386.70" y="274.80" font-size="10.5" text-anchor="end" fill="#222" >1.0</text>
<text x="395.70" y="506.30" font-size="10.5" text-anchor="middle" fill="#222" >0</text>
<text x="451.50" y="506.30" font-size="10.5" text-anchor="middle" fill="#222" >20</text>
<text x="507.30" y="506.30" font-size="10.5" text-anchor="middle" fill="#222" >40</text>
<text x="563.10" y="506.30" font-size="10.5" text-anchor="middle" fill="#222" >60</text>
<text x="618.90" y="506.30" font-size="10.5" text-anchor="middle" fill="#222" >80</text>
<text x="674.70" y="506.30" font-size="10.5" text-anchor="middle" fill="#222" >100</text>
<text x="529.3" y="518.3" font-size="11.2" fill="#222"><tspan font-style="italic">r</tspan><tspan font-size="7" dy="3" font-style="italic">c</tspan><tspan dy="-3" font-style="italic">/</tspan><tspan font-family="Liberation Serif" font-style="italic" font-size="12">δ</tspan></text>
<text transform="rotate(-90)" fill="#222"><tspan x="-394.60" y="365.10" font-size="11" font-family="Liberation Serif" font-style="italic">γ</tspan><tspan x="-388.60" y="369.80" font-size="6.0" >Hg</tspan><tspan x="-382.40" y="366.00" font-size="13" >/</tspan><tspan x="-378.90" y="365.10" font-size="11" font-family="Liberation Serif" font-style="italic">γ</tspan><tspan x="-374.40" y="369.80" font-size="6.3" >Hg∞</tspan></text>
<line x1="507.80" y1="339.20" x2="533.10" y2="339.20" stroke="#f00000" stroke-width="2.6" />
<text x="536.8" y="342.9" font-size="11.2" fill="#222">Lu-Jiang model<tspan font-size="7" dy="-5">26</tspan></text>
<path d="M507.80 355.20L531.70 355.20" stroke="#0000f0" stroke-width="2.6" fill="none" stroke-dasharray="7.3 3.5 1.5 4" stroke-dashoffset="0" />
<text x="536.8" y="358.8" font-size="11.2" fill="#222">Kalová-Mares model<tspan font-size="7" dy="-5">25</tspan></text>
<text x="355.5" y="263.3" font-size="16.5" font-weight="bold" fill="#111">d</text>
</g>
</svg></body></html>
